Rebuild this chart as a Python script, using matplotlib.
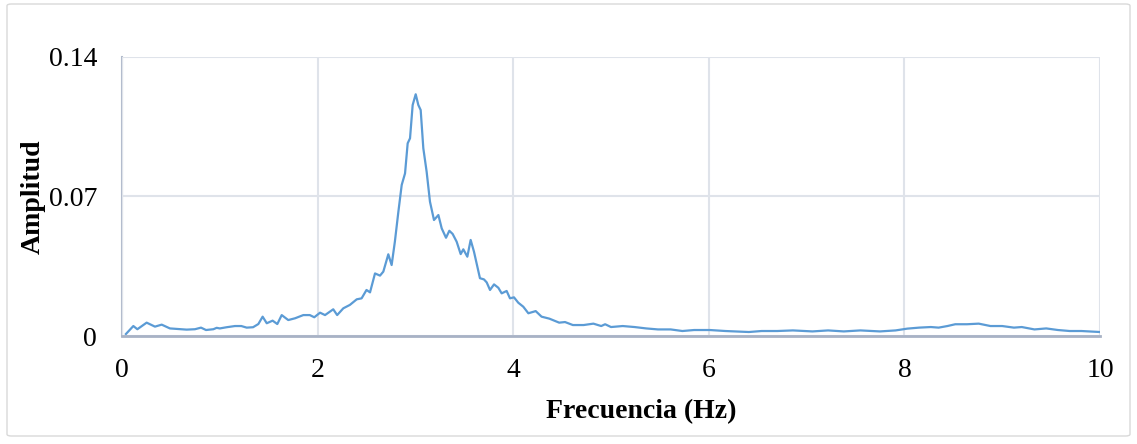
import matplotlib
matplotlib.use("Agg")
import matplotlib.pyplot as plt
from matplotlib.patches import FancyBboxPatch

freq = [0.04, 0.116, 0.157, 0.252, 0.337, 0.406, 0.49, 0.576, 0.661, 0.746,
        0.808, 0.859, 0.934, 0.968, 1.0, 1.07, 1.155, 1.22, 1.275, 1.34,
        1.394, 1.438, 1.48, 1.54, 1.588, 1.633, 1.70, 1.77, 1.854, 1.92,
        1.966, 2.025, 2.076, 2.16, 2.20, 2.263, 2.33, 2.40, 2.45, 2.50,
        2.536, 2.587, 2.638, 2.672, 2.723, 2.757, 2.79, 2.826, 2.86, 2.894,
        2.921, 2.945, 2.972, 3.003, 3.03, 3.054, 3.081, 3.115, 3.149, 3.19,
        3.235, 3.269, 3.313, 3.347, 3.381, 3.422, 3.463, 3.49, 3.531, 3.565,
        3.599, 3.66, 3.701, 3.729, 3.763, 3.804, 3.848, 3.882, 3.933, 3.967,
        4.008, 4.052, 4.103, 4.155, 4.23, 4.29, 4.37, 4.47, 4.53, 4.61,
        4.72, 4.82, 4.90, 4.94, 5.0, 5.12, 5.24, 5.36, 5.48, 5.61,
        5.73, 5.85, 6.01, 6.17, 6.41, 6.54, 6.70, 6.86, 7.06, 7.22,
        7.38, 7.55, 7.75, 7.91, 8.03, 8.15, 8.27, 8.35, 8.44, 8.52,
        8.64, 8.76, 8.88, 9.0, 9.12, 9.2, 9.33, 9.45, 9.57, 9.69,
        9.81, 9.93, 10.0]

amplitud = [0.001, 0.005, 0.0034, 0.0067, 0.0047, 0.0057, 0.0038, 0.0035, 0.0032, 0.0034,
            0.0042, 0.003, 0.0034, 0.0041, 0.0038, 0.0044, 0.005, 0.005, 0.0042, 0.0044,
            0.006, 0.0097, 0.0064, 0.0077, 0.006, 0.0105, 0.008, 0.0089, 0.0105, 0.0105,
            0.0094, 0.0117, 0.0105, 0.0134, 0.0105, 0.0139, 0.0156, 0.0184, 0.0189, 0.0231,
            0.0219, 0.0314, 0.0303, 0.0323, 0.041, 0.0356, 0.0473, 0.0624, 0.0758, 0.0816,
            0.0967, 0.0992, 0.1159, 0.1213, 0.1159, 0.1134, 0.0942, 0.0824, 0.0674, 0.0582,
            0.0607, 0.054, 0.0493, 0.0528, 0.0512, 0.0473, 0.0411, 0.0435, 0.0398, 0.0482,
            0.0423, 0.029, 0.0284, 0.0269, 0.0231, 0.0259, 0.0242, 0.0214, 0.0226, 0.0189,
            0.0194, 0.0167, 0.0147, 0.0114, 0.0125, 0.0097, 0.0087, 0.0067, 0.007, 0.0055,
            0.0055, 0.0062, 0.005, 0.0059, 0.0045, 0.005, 0.0045, 0.0038, 0.0033, 0.0033,
            0.0025, 0.003, 0.003, 0.0025, 0.002, 0.0025, 0.0025, 0.0028, 0.0023, 0.0028,
            0.0023, 0.0028, 0.0023, 0.0028, 0.0037, 0.0042, 0.0045, 0.0042, 0.005, 0.0059,
            0.0059, 0.0062, 0.005, 0.005, 0.0042, 0.0045, 0.0033, 0.0038, 0.003, 0.0025,
            0.0025, 0.0022, 0.002]

xticks = [0, 2, 4, 6, 8, 10]
yticks = [0, 0.07, 0.14]
ytick_labels = ["0", "0.07", "0.14"]
xlabel = "Frecuencia (Hz)"
ylabel = "Amplitud"

plt.rcParams['font.family'] = ['Liberation Serif', 'DejaVu Serif']

W, H = 1137, 444
fig = plt.figure(figsize=(W / 100, H / 100), dpi=100)
fig.patch.set_facecolor("white")

# outer chart border
border = FancyBboxPatch((7 / W, 8 / H), (1130 - 7) / W, (440 - 8) / H,
                        boxstyle="round,pad=0,rounding_size=0.004",
                        transform=fig.transFigure, fill=False,
                        edgecolor="#d9d9d9", linewidth=1.0)
fig.patches.append(border)

left, right, top, bottom = 122, 1100, 57, 336
ax = fig.add_axes([left / W, 1 - bottom / H, (right - left) / W, (bottom - top) / H])

ax.plot(freq, amplitud, color="#5b9bd5", linewidth=1.6, solid_joinstyle="round")

ax.set_xlim(0, 10)
ax.set_ylim(0, 0.14)
ax.set_xticks(xticks)
ax.set_xticklabels([str(t) for t in xticks])
ax.set_yticks(yticks)
ax.set_yticklabels(ytick_labels)

ax.grid(True, color="#dfe3ea", linewidth=1.5)
ax.set_axisbelow(True)
for s in ["top", "right"]:
    ax.spines[s].set_visible(False)
ax.spines["left"].set_color("#b3bccd")
ax.spines["left"].set_linewidth(1.5)
ax.spines["bottom"].set_color("#a8b2c5")
ax.spines["bottom"].set_linewidth(2.0)
ax.spines["left"].set_zorder(0.5)

ax.tick_params(axis="both", length=0, labelsize=20, colors="black")
ax.tick_params(axis="x", pad=16)
ax.tick_params(axis="y", pad=18)

fig.text(641 / W, 1 - 412 / H, xlabel, ha="center", va="center",
         fontsize=20, fontweight="bold")
fig.text(33 / W, 1 - 197 / H, ylabel, ha="center", va="center",
         rotation=90, fontsize=20, fontweight="bold")

fig.savefig("out.png", dpi=100, facecolor="white")
